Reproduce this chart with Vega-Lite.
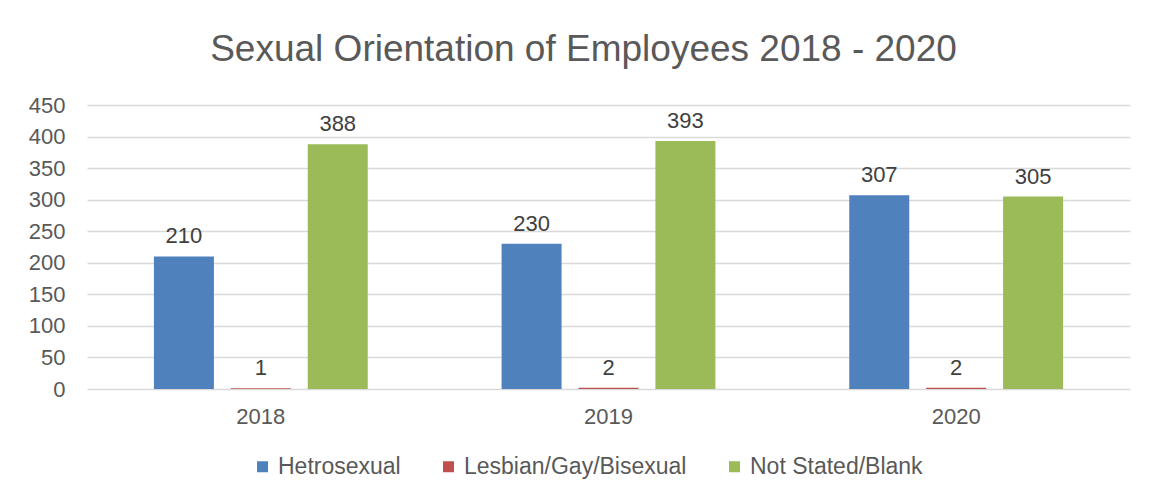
{
  "$schema": "https://vega.github.io/schema/vega-lite/v6.json",
  "width": 1043,
  "height": 284,
  "autosize": {"type": "none"},
  "padding": {"left": 87, "top": 105, "right": 27, "bottom": 113},
  "background": "white",
  "title": {
    "text": "Sexual Orientation of Employees 2018 - 2020",
    "font": "Liberation Sans",
    "fontSize": 37,
    "fontWeight": "normal",
    "color": "#595959",
    "anchor": "middle",
    "offset": 25,
    "dx": -25
  },
  "config": {
    "view": {"stroke": null},
    "font": "Liberation Sans"
  },
  "data": {
    "values": [
      {"year": "2018", "group": "Hetrosexual", "count": 210},
      {"year": "2018", "group": "Lesbian/Gay/Bisexual", "count": 1},
      {"year": "2018", "group": "Not Stated/Blank", "count": 388},
      {"year": "2019", "group": "Hetrosexual", "count": 230},
      {"year": "2019", "group": "Lesbian/Gay/Bisexual", "count": 2},
      {"year": "2019", "group": "Not Stated/Blank", "count": 393},
      {"year": "2020", "group": "Hetrosexual", "count": 307},
      {"year": "2020", "group": "Lesbian/Gay/Bisexual", "count": 2},
      {"year": "2020", "group": "Not Stated/Blank", "count": 305}
    ]
  },
  "encoding": {
    "x": {
      "field": "year",
      "type": "nominal",
      "scale": {"paddingInner": 0, "paddingOuter": 0},
      "axis": {
        "title": null,
        "labelAngle": 0,
        "labelFontSize": 22,
        "labelColor": "#595959",
        "labelPadding": 17,
        "ticks": false,
        "domain": false
      }
    },
    "xOffset": {
      "field": "group",
      "type": "nominal",
      "scale": {"paddingInner": 0.22, "paddingOuter": 0.87}
    },
    "y": {
      "field": "count",
      "type": "quantitative",
      "scale": {"domain": [0, 450]},
      "axis": {
        "title": null,
        "values": [0, 50, 100, 150, 200, 250, 300, 350, 400, 450],
        "labelFontSize": 22,
        "labelColor": "#595959",
        "labelPadding": 22,
        "ticks": false,
        "domain": false,
        "gridColor": "#d9d9d9",
        "gridWidth": 1.5
      }
    }
  },
  "layer": [
    {
      "mark": {"type": "bar"},
      "encoding": {
        "color": {
          "field": "group",
          "type": "nominal",
          "scale": {
            "domain": ["Hetrosexual", "Lesbian/Gay/Bisexual", "Not Stated/Blank"],
            "range": ["#4F81BD", "#C0504D", "#9BBB59"]
          },
          "legend": {
            "title": null,
            "orient": "none",
            "legendX": 164,
            "legendY": 350,
            "direction": "horizontal",
            "symbolType": "square",
            "symbolSize": 121,
            "symbolStrokeWidth": 0,
            "labelFontSize": 23,
            "labelColor": "#595959",
            "labelOffset": 4,
            "labelLimit": 0,
            "columnPadding": 36
          }
        }
      }
    },
    {
      "mark": {"type": "text", "baseline": "alphabetic", "dy": -13, "fontSize": 22, "color": "#404040"},
      "encoding": {
        "text": {"field": "count", "type": "quantitative"}
      }
    }
  ]
}
